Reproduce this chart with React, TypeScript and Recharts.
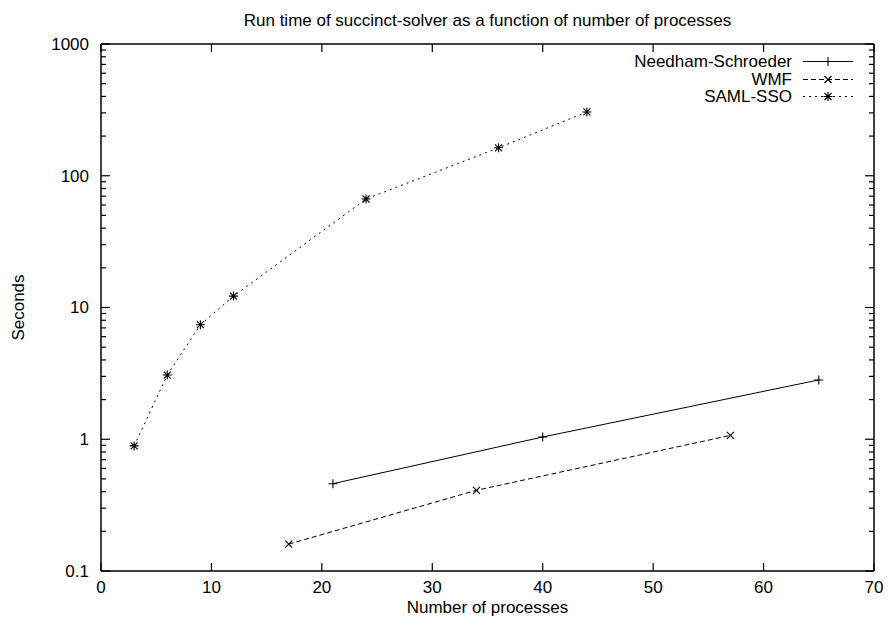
import { LineChart, Line, XAxis, YAxis, Legend } from "recharts";

const nsX = [21, 40, 65];
const nsY = [0.46, 1.04, 2.82];

const wmfX = [17, 34, 57];
const wmfY = [0.16, 0.41, 1.07];

const samlX = [3, 6, 9, 12, 24, 36, 44];
const samlY = [0.89, 3.07, 7.4, 12.2, 66.6, 163, 305];

const xTicks = [0, 10, 20, 30, 40, 50, 60, 70];
const yMajor = [0.1, 1, 10, 100, 1000];
const yMinorFactors = [2, 3, 4, 5, 6, 7, 8, 9];

const title = "Run time of succinct-solver as a function of number of processes";
const xTitle = "Number of processes";
const yTitle = "Seconds";

const FONT = "'Liberation Sans', Arial, Helvetica, sans-serif";
const FS = 17;

// all y ticks: decades plus minor ticks in between
const yTicks: number[] = [];
yMajor.forEach((d, i) => {
  yTicks.push(d);
  if (i < yMajor.length - 1) yMinorFactors.forEach((f) => yTicks.push(+(d * f).toPrecision(3)));
});

const toRows = (xs: number[], ys: number[]) => xs.map((x, i) => ({ x, y: ys[i] }));

type Marker = "plus" | "cross" | "star";

function markerPath(kind: Marker, cx: number, cy: number) {
  const p = 4.5;
  const c = 3.5;
  const plus = `M${cx - p},${cy}L${cx + p},${cy}M${cx},${cy - p}L${cx},${cy + p}`;
  const cross = `M${cx - c},${cy - c}L${cx + c},${cy + c}M${cx - c},${cy + c}L${cx + c},${cy - c}`;
  if (kind === "plus") return plus;
  if (kind === "cross") return cross;
  return plus + cross;
}

const series = [
  { name: "Needham-Schroeder", data: toRows(nsX, nsY), dash: undefined, marker: "plus" as Marker },
  { name: "WMF", data: toRows(wmfX, wmfY), dash: "5 3", marker: "cross" as Marker },
  { name: "SAML-SSO", data: toRows(samlX, samlY), dash: "2 4", marker: "star" as Marker },
];

const makeDot = (kind: Marker) => (props: any) => {
  const { cx, cy, index } = props;
  if (cx == null || cy == null) return <g key={index} />;
  return <path key={index} d={markerPath(kind, cx, cy)} stroke="#000" strokeWidth={1.1} fill="none" />;
};

const LeftTick = (props: any) => {
  const { x, y, payload } = props;
  const major = yMajor.includes(payload.value);
  return (
    <g>
      <line x1={x} x2={x + (major ? 9 : 5)} y1={y} y2={y} stroke="#000" strokeWidth={1.2} />
      {major && (
        <text x={x - 12} y={y} dy="0.35em" textAnchor="end" fontFamily={FONT} fontSize={FS} fill="#000">
          {String(payload.value)}
        </text>
      )}
    </g>
  );
};

const RightTick = (props: any) => {
  const { x, y, payload } = props;
  const major = yMajor.includes(payload.value);
  return <line x1={x} x2={x - (major ? 9 : 5)} y1={y} y2={y} stroke="#000" strokeWidth={1.2} />;
};

const BottomTick = (props: any) => {
  const { x, y, payload } = props;
  return (
    <g>
      <line x1={x} x2={x} y1={y} y2={y - 8} stroke="#000" strokeWidth={1.2} />
      <text x={x} y={y + 22} textAnchor="middle" fontFamily={FONT} fontSize={FS} fill="#000">
        {String(payload.value)}
      </text>
    </g>
  );
};

const TopTick = (props: any) => {
  const { x, y } = props;
  return <line x1={x} x2={x} y1={y} y2={y + 8} stroke="#000" strokeWidth={1.2} />;
};

const KeyBox = () => (
  <div style={{ fontFamily: FONT, fontSize: FS, color: "#000" }}>
    {series.map((s) => (
      <div key={s.name} style={{ display: "flex", alignItems: "center", height: 17.5 }}>
        <span style={{ width: 180, textAlign: "right", lineHeight: "17.5px" }}>{s.name}</span>
        <svg width={61} height={17} style={{ display: "block" }}>
          <line x1={11} x2={61} y1={8.5} y2={8.5} stroke="#000" strokeWidth={1} strokeDasharray={s.dash} />
          <path d={markerPath(s.marker, 36, 8.5)} stroke="#000" strokeWidth={1.1} fill="none" />
        </svg>
      </div>
    ))}
  </div>
);

export default function App() {
  return (
    <div style={{ position: "absolute", left: 0, top: 0, background: "#fff" }}>
      <LineChart width={888} height={627} margin={{ top: 43, right: 13, bottom: 0, left: 0 }}>
        <XAxis
          dataKey="x"
          type="number"
          domain={[0, 70]}
          ticks={xTicks}
          interval={0}
          allowDataOverflow
          height={56}
          tickSize={0}
          tickMargin={0}
          tickLine={false}
          tick={<BottomTick />}
          axisLine={{ stroke: "#000", strokeWidth: 1.5 }}
          label={{ value: xTitle, position: "insideBottom", offset: 14, fontFamily: FONT, fontSize: FS, fill: "#000" }}
        />
        <XAxis
          xAxisId="top"
          orientation="top"
          dataKey="x"
          type="number"
          domain={[0, 70]}
          ticks={xTicks}
          interval={0}
          allowDataOverflow
          height={1}
          tickSize={0}
          tickMargin={0}
          tickLine={false}
          tick={<TopTick />}
          axisLine={{ stroke: "#000", strokeWidth: 1.5 }}
          label={{ value: title, position: "top", offset: 17, fontFamily: FONT, fontSize: FS, fill: "#000" }}
        />
        <YAxis
          type="number"
          scale="log"
          domain={[0.1, 1000]}
          ticks={yTicks}
          interval={0}
          allowDataOverflow
          width={101}
          tickSize={0}
          tickMargin={0}
          tickLine={false}
          tick={<LeftTick />}
          axisLine={{ stroke: "#000", strokeWidth: 1.5 }}
          label={{
            value: yTitle,
            angle: -90,
            position: "insideLeft",
            offset: 18,
            fontFamily: FONT,
            fontSize: FS,
            fill: "#000",
            style: { textAnchor: "middle" },
          }}
        />
        <YAxis
          yAxisId="right"
          orientation="right"
          type="number"
          scale="log"
          domain={[0.1, 1000]}
          ticks={yTicks}
          interval={0}
          allowDataOverflow
          width={1}
          tickSize={0}
          tickMargin={0}
          tickLine={false}
          tick={<RightTick />}
          axisLine={{ stroke: "#000", strokeWidth: 1.5 }}
        />
        <Legend
          layout="vertical"
          align="center"
          verticalAlign="middle"
          content={<KeyBox />}
          wrapperStyle={{ top: 53, left: 612, width: "auto", right: "auto" }}
        />
        {series.map((s) => (
          <Line
            key={s.name}
            data={s.data}
            dataKey="y"
            name={s.name}
            type="linear"
            stroke="#000"
            strokeWidth={1}
            strokeDasharray={s.dash}
            dot={makeDot(s.marker)}
            activeDot={false}
            legendType="none"
            isAnimationActive={false}
          />
        ))}
      </LineChart>
    </div>
  );
}
